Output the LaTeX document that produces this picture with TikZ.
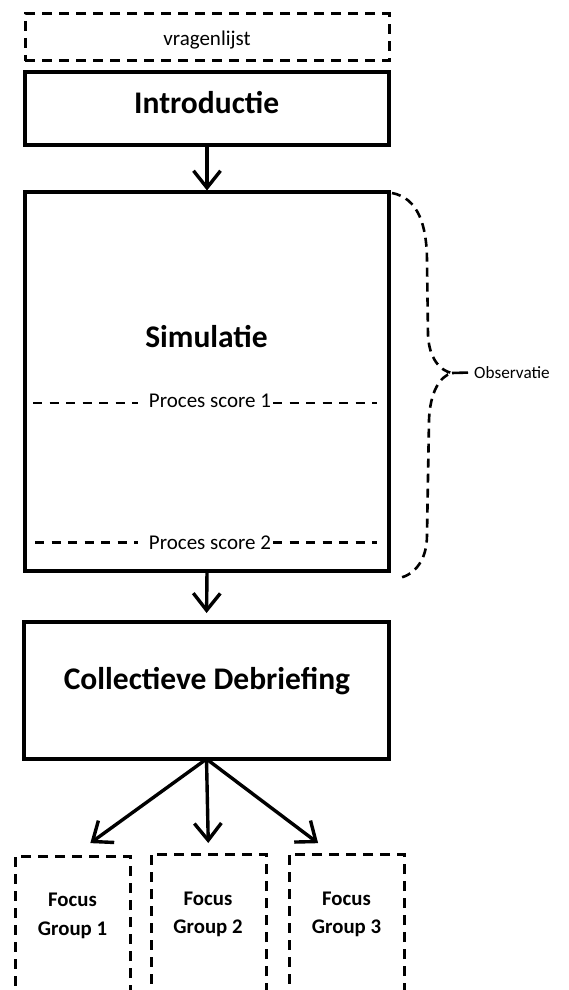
\documentclass[tikz,border=0pt]{standalone}
\usepackage{fontspec}
\setmainfont{Carlito}
\usetikzlibrary{arrows.meta}
\begin{document}
\begin{tikzpicture}[x=1pt,y=-1pt,
  solidbox/.style={draw, line width=3.8pt, inner sep=0pt, outer sep=0pt},
  dashbox/.style={draw, line width=3pt, dash pattern=on 10pt off 7pt, inner sep=0pt, outer sep=0pt},
  bigtxt/.style={font=\fontsize{31.5}{36}\selectfont\bfseries, anchor=base, inner sep=0pt},
  smalltxt/.style={font=\fontsize{21}{25}\selectfont, anchor=base, inner sep=0pt},
  fgtxt/.style={font=\fontsize{20.8}{25}\selectfont\bfseries, anchor=base, inner sep=0pt},
  arr/.style={line width=3.4pt, -{Straight Barb[length=17pt,width=27pt]}},
  divider/.style={line width=2.8pt, dash pattern=on 9pt off 7.5pt},
  bracestyle/.style={line width=2.6pt, dash pattern=on 9pt off 6pt}
]
\useasboundingbox (0,0) rectangle (568,990);

% boxes
\node[dashbox, minimum width=364pt, minimum height=47pt] (vrag) at (207,37.5) {};
\node[smalltxt] (vragt) at (207,45.5) {vragenlijst};

\node[solidbox, minimum width=364pt, minimum height=73pt] (intro) at (207,108.5) {};
\node[bigtxt] (introt) at (206.7,113) {Introductie};

\node[solidbox, minimum width=364pt, minimum height=379pt] (sim) at (207,381.5) {};
\node[bigtxt] (simt) at (206.5,347) {Simulatie};

% process score dividers
\node[smalltxt] (ps1) at (210,407.3) {Proces score 1};
\coordinate (d1l) at (33,403);
\coordinate (d1r) at (377,403);
\draw[divider] (d1l) -- ([xshift=-11pt]d1l -| ps1.west);
\draw[divider] ([xshift=2pt]d1r -| ps1.east) -- (d1r);

\node[smalltxt] (ps2) at (210,549.3) {Proces score 2};
\coordinate (d2l) at (35,542.7);
\coordinate (d2r) at (377,542.7);
\draw[divider] (d2l) -- ([xshift=-11pt]d2l -| ps2.west);
\draw[divider] ([xshift=2pt]d2r -| ps2.east) -- (d2r);

\node[solidbox, minimum width=365pt, minimum height=137pt] (deb) at (206.5,690.5) {};
\node[bigtxt] (debt) at (207,689.5) {Collectieve Debriefing};

% focus groups
\node[dashbox, minimum width=115pt, minimum height=160pt] (fg1) at (72.5,936) {};
\node[dashbox, minimum width=115pt, minimum height=160pt] (fg2) at (208.5,934) {};
\node[dashbox, minimum width=115pt, minimum height=160pt] (fg3) at (346.5,934) {};
\node[fgtxt] (fg1a) at (72.5,906.7) {Focus};
\node[fgtxt] (fg1b) at (72.5,935) {Group 1};
\node[fgtxt] (fg2a) at (208,905) {Focus};
\node[fgtxt] (fg2b) at (208,933.3) {Group 2};
\node[fgtxt] (fg3a) at (346.5,905) {Focus};
\node[fgtxt] (fg3b) at (346.5,933.3) {Group 3};

% arrows
\draw[arr, shorten >=1.5pt] (intro.south) -- (sim.north);
\draw[arr, shorten >=9pt] (sim.south) -- (deb.north);
\draw[arr, shorten >=22pt] (deb.south) -- (fg1.north);
\draw[arr, shorten >=11pt] (deb.south) -- (fg2.north);
\draw[arr, shorten >=18pt] (deb.south) -- ([xshift=-14pt]fg3.north);

% brace
\coordinate (btip) at (452,373);
\draw[bracestyle] (392,193) .. controls (418,198) and (427,225) .. (427,262)
  -- (428,335) .. controls (429,358) and (440,371) .. (btip)
  .. controls (440,376) and (430,392) .. (429,420)
  -- (427,535) .. controls (427,560) and (415,574) .. (400,578);
\node[font=\fontsize{17.2}{20}\selectfont, anchor=base west, inner sep=0pt] (obs) at (474,378.3) {Observatie};
\draw[line width=2.6pt, shorten >=6pt] (btip) -- (obs.west);
\end{tikzpicture}
\end{document}
